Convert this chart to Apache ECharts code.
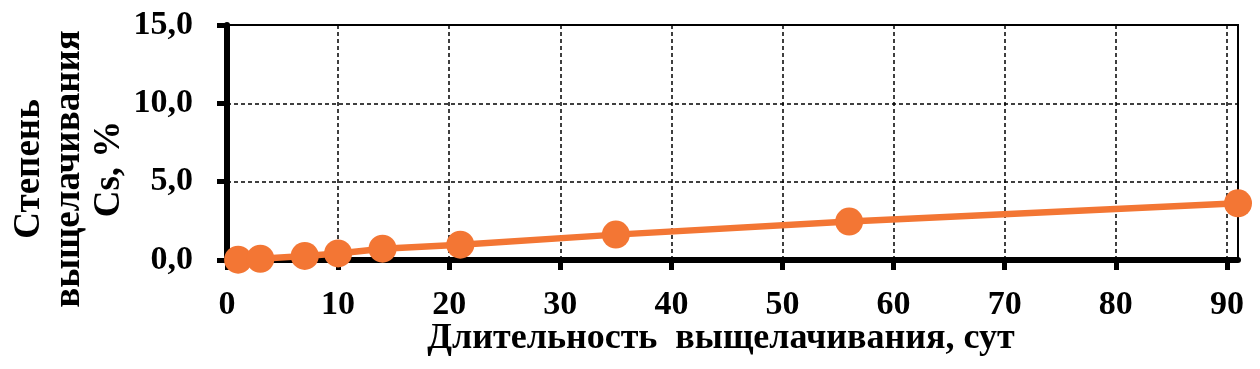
<!DOCTYPE html>
<html><head><meta charset="utf-8">
<script src="https://cdn.jsdelivr.net/npm/echarts@6/dist/echarts.min.js"></script>
<style>html,body{margin:0;padding:0;background:#fff}#c{width:1260px;height:369px}</style>
</head><body><div id="c"></div>
<script>
const days = [1, 3, 7, 10, 14, 21, 35, 56, 91];
const leach = [0.02, 0.08, 0.26, 0.42, 0.72, 0.98, 1.62, 2.45, 3.62];
const xTicks = [0, 10, 20, 30, 40, 50, 60, 70, 80, 90];
const yTicks = [0, 5, 10, 15];
const xName = 'Длительность  выщелачивания, сут';
const yNameLines = ['Степень', 'выщелачивания', 'Cs, %'];

const font = '"Liberation Serif", "Times New Roman", serif';
const chart = echarts.init(document.getElementById('c'), null, {renderer: 'canvas'});
const yX = [29, 69, 109];
chart.setOption({
  animation: false,
  grid: {left: 227, right: 22, top: 25, bottom: 109, show: true, borderColor: '#000', borderWidth: 2},
  xAxis: {
    type: 'value', min: 0, max: 91, interval: 10,
    axisLine: {show: true, onZero: false, lineStyle: {color: '#000', width: 6}},
    axisTick: {show: true, length: 10, inside: false, customValues: xTicks, lineStyle: {color: '#000', width: 5}},
    axisLabel: {customValues: xTicks, margin: 28, color: '#000', fontFamily: font, fontWeight: 'bold', fontSize: 34},
    splitLine: {show: true, lineStyle: {color: '#000', type: [4, 3], width: 1.5}}
  },
  yAxis: {
    type: 'value', min: 0, max: 15, interval: 5,
    axisLine: {show: true, lineStyle: {color: '#000', width: 6}},
    axisTick: {show: true, length: 10, customValues: yTicks, lineStyle: {color: '#000', width: 5}},
    axisLabel: {customValues: yTicks, margin: 34, color: '#000', fontFamily: font, fontWeight: 'bold', fontSize: 34,
      formatter: v => v.toFixed(1).replace('.', ',')},
    splitLine: {show: true, lineStyle: {color: '#000', type: [4, 3], width: 1.5}}
  },
  series: [{
    type: 'line', data: days.map((d, i) => [d, leach[i]]),
    symbol: 'circle', symbolSize: 28, clip: false,
    lineStyle: {color: '#F37634', width: 6.5},
    itemStyle: {color: '#F37634'}
  }],
  graphic: [
    {type: 'text', x: 721, y: 339, style: {text: xName, fill: '#000', font: 'bold 36px ' + font, textAlign: 'center', textVerticalAlign: 'middle'}},
    ...yNameLines.map((t, i) => ({type: 'text', x: yX[i], y: 169, rotation: Math.PI / 2,
      style: {text: t, fill: '#000', font: 'bold 37px ' + font, textAlign: 'center', textVerticalAlign: 'middle'}}))
  ]
});
</script></body></html>
